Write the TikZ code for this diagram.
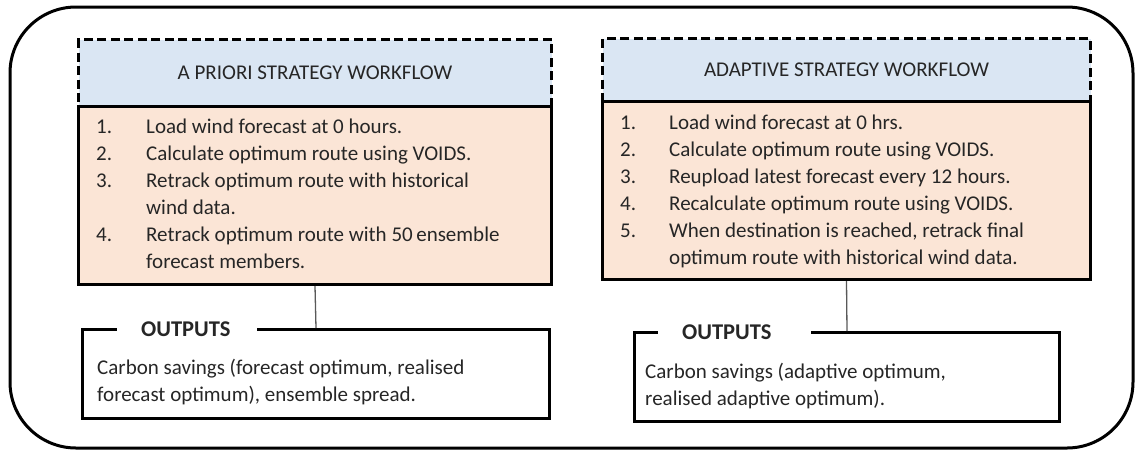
\documentclass[tikz,border=0pt]{standalone}
\usepackage{fontspec}
\setmainfont{Carlito}

\definecolor{headblue}{RGB}{218,230,243}
\definecolor{stepfill}{RGB}{251,229,214}
\definecolor{inkgray}{RGB}{38,38,38}

\tikzset{
	every node/.style={font=\fontsize{21}{27}\selectfont, text=inkgray},
	frame/.style={draw=black, line width=3pt, rounded corners=66pt},
	headbox/.style={draw=black, line width=3pt, dash pattern=on 9pt off 4.5pt, fill=headblue, inner sep=0pt, anchor=north west},
	stepbox/.style={draw=black, line width=3pt, fill=stepfill, inner sep=0pt, anchor=north west},
	outbox/.style={draw=black, line width=3pt, inner sep=0pt, anchor=north west},
	outlabel/.style={fill=white, inner xsep=24pt, inner ysep=2pt, align=left, anchor=west, font=\fontsize{22.5}{27}\selectfont\bfseries},
	listtext/.style={inner sep=0pt, anchor=base west},
	link/.style={draw=black!65, line width=1.3pt},
}

\begin{document}
\begin{tikzpicture}[x=1pt, y=1pt]
\useasboundingbox (0,0) rectangle (1136,-451);

% outer frame
\draw[frame] (10,-7) rectangle (1133,-448);

% a priori workflow (left)
\node[headbox, minimum width=473pt, minimum height=67pt] (aprhead) at (77,-38) {A PRIORI STRATEGY WORKFLOW};
\node[stepbox, minimum width=473pt, minimum height=178pt] (aprbody) at (77,-105) {};
\foreach \num/\line [count=\k] in {1./Load wind forecast at 0 hours., 2./Calculate optimum route using VOIDS., 3./Retrack optimum route with historical, /wind data., 4./Retrack optimum route with 50\,ensemble, /forecast members.} {
	\node[listtext] (aprnum\k) at (96,{-133-27*(\k-1)}) {\num};
	\node[listtext] (aprstep\k) at (146,{-133-27*(\k-1)}) {\line};
}
\node[outbox, minimum width=467pt, minimum height=89pt] (aprout) at (81,-328) {};
\draw[link] (aprbody.south) -- (aprout.north);
\node[outlabel, text width=92pt] (aprlabel) at (117,-329) {OUTPUTS};
% base of a multi-line node sits on its last line
\node[listtext, align=left] (aprresult) at (97,-401) {Carbon savings (forecast optimum, realised\\forecast optimum), ensemble spread.};

% adaptive workflow (right)
\node[headbox, minimum width=488pt, minimum height=63pt] (adphead) at (601,-37) {ADAPTIVE STRATEGY WORKFLOW};
\node[stepbox, minimum width=488pt, minimum height=178pt] (adpbody) at (601,-100) {};
\foreach \num/\line [count=\k] in {1./Load wind forecast at 0 hrs., 2./Calculate optimum route using VOIDS., 3./Reupload latest forecast every 12 hours., 4./Recalculate optimum route using VOIDS., 5./{When destination is reached, retrack final}, /optimum route with historical wind data.} {
	\node[listtext] (adpnum\k) at (620,{-129-27*(\k-1)}) {\num};
	\node[listtext] (adpstep\k) at (669,{-129-27*(\k-1)}) {\line};
}
\node[outbox, minimum width=425pt, minimum height=89pt] (adpout) at (633,-331) {};
\draw[link] (adpbody.south) -- (adpout.north);
\node[outlabel, text width=105pt] (adplabel) at (658,-332) {OUTPUTS};
\node[listtext, align=left] (adpresult) at (645,-405) {Carbon savings (adaptive optimum,\\realised adaptive optimum).};
\end{tikzpicture}
\end{document}
